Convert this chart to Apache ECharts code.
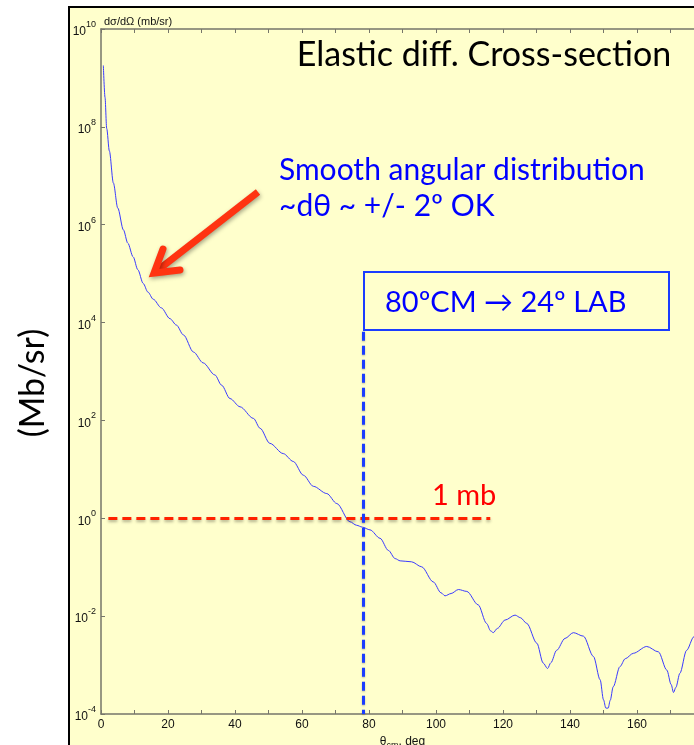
<!DOCTYPE html>
<html>
<head>
<meta charset="utf-8">
<script src="https://cdn.jsdelivr.net/npm/echarts@6/dist/echarts.min.js"></script>
<style>
html,body{margin:0;padding:0;background:#fff;}
#c{width:694px;height:745px;}
</style>
</head>
<body>
<div id="c"></div>
<script>
// theta_cm (deg)
var theta = [0.7,1.2,1.7,2.5,3.7,5.0,6.7,8.0,9.6,11.0,12.6,14.0,15.6,18.0,20.6,22.5,24.6,27.6,30.5,34.0,36.0,38.5,41.5,45.5,47.5,50.4,54.4,57.4,60.4,63.4,67.4,70.4,74.3,76.3,78.0,80.3,83.3,85.8,87.8,89.3,92.7,95.7,99.2,101.5,102.7,104.5,106.7,109.2,112.6,115.1,116.3,117.1,118.3,120.6,123.6,125.2,127.1,130.1,132.0,133.3,134.3,136.0,138.5,141.0,144.0,147.0,149.0,150.0,150.7,151.4,152.0,152.9,154.9,156.5,158.9,162.9,166.4,168.9,170.2,170.9,171.6,172.8,174.8,177.0,180.0];
// dsigma/dOmega (mb/sr)
var sigma = [1.8e9,4.0e8,9.3e7,3.2e7,7.1e6,2.2e6,7.8e5,4.2e5,2.2e5,1.2e5,6.3e4,4.2e4,3.0e4,2.0e4,1.2e4,8.9e3,5.6e3,2.5e3,1.5e3,850,525,280,190,110,69,34,21,14.5,7.6,4.5,3.2,2.0,0.85,0.72,0.66,0.58,0.39,0.22,0.15,0.135,0.129,0.102,0.050,0.030,0.026,0.029,0.035,0.032,0.017,0.0071,0.0050,0.0046,0.0056,0.0083,0.0105,0.0093,0.0071,0.0028,0.0011,0.00085,0.00112,0.0020,0.0035,0.0046,0.0039,0.0015,0.00050,0.000195,0.000132,0.000132,0.00019,0.00036,0.00093,0.00135,0.00174,0.0024,0.00186,0.00079,0.00040,0.000275,0.00035,0.00068,0.0020,0.0038,0.0063];
var xTicks = [0,20,40,60,80,100,120,140,160,180];
var yExponents = [-4,-2,0,2,4,6,8,10];

var data = theta.map(function(t,i){return [t, sigma[i]];});

var chart = echarts.init(document.getElementById('c'), null, {renderer:'canvas'});
var axisColor = '#76766a';
var option = {
  backgroundColor: '#ffffff',
  animation: false,
  grid: {left: 101, top: 29, width: 603, height: 685, containLabel: false, outerBoundsMode: 'none'},
  xAxis: [{
    type: 'value', min: 0, max: 180, interval: 20, position: 'bottom',
    axisLine: {show: true, lineStyle: {color: axisColor, width: 1.5}},
    axisTick: {show: true, inside: true, length: 4, lineStyle: {color: axisColor}},
    minorTick: {show: true, splitNumber: 2, length: 4, lineStyle: {color: axisColor}},
    splitLine: {show: false},
    axisLabel: {color: '#111', fontSize: 12, fontFamily: 'Liberation Sans', margin: 5},
    name: '{a|θ}{s|cm}{a|, deg}', nameLocation: 'middle', nameGap: 14,
    nameTextStyle: {rich: {
      a: {fontSize: 12, fontFamily: 'Liberation Sans', color: '#111', verticalAlign: 'middle', lineHeight: 16},
      s: {fontSize: 9, fontFamily: 'Liberation Sans', color: '#111', verticalAlign: 'bottom', lineHeight: 16}
    }}
  }, {
    type: 'value', min: 0, max: 180, interval: 20, position: 'top',
    axisLine: {show: true, lineStyle: {color: axisColor, width: 1.5}},
    axisTick: {show: true, inside: true, length: 4, lineStyle: {color: axisColor}},
    minorTick: {show: true, splitNumber: 2, length: 4, lineStyle: {color: axisColor}},
    splitLine: {show: false},
    axisLabel: {show: false}
  }],
  yAxis: {
    type: 'log', logBase: 10, min: 1e-4, max: 1e10, interval: 2,
    axisLine: {show: true, lineStyle: {color: axisColor, width: 1.5}},
    axisTick: {show: true, inside: true, length: 4, lineStyle: {color: axisColor}},
    splitLine: {show: false},
    axisLabel: {
      margin: 5,
      formatter: function(v){
        var e = Math.round(Math.log(v)/Math.LN10);
        if (yExponents.indexOf(e) < 0) return '';
        return '{b|10}{s|' + e + '}';
      },
      rich: {
        b: {fontSize: 12, fontFamily: 'Liberation Sans', color: '#111', verticalAlign: 'bottom', lineHeight: 18},
        s: {fontSize: 9, fontFamily: 'Liberation Sans', color: '#111', verticalAlign: 'top', lineHeight: 18}
      }
    }
  },
  graphic: [
    {type: 'rect', z: -10, silent: true, shape: {x: 69, y: 7, width: 700, height: 800},
     style: {fill: '#ffffcc', stroke: '#000', lineWidth: 2}},
    {type: 'text', z: 10, style: {x: 104, y: 22, text: 'dσ/dΩ (mb/sr)', textAlign: 'left', textVerticalAlign: 'middle',
      font: '11px "Liberation Sans"', fill: '#111'}},
    {type: 'text', z: 10, style: {x: 484, y: 55, text: 'Elastic diff. Cross-section', textAlign: 'center', textVerticalAlign: 'middle',
      font: '34px Lato', fill: '#000'}},
    {type: 'text', z: 10, style: {x: 279, y: 170, text: 'Smooth angular distribution', textAlign: 'left', textVerticalAlign: 'middle',
      font: '30px Lato', fill: '#0000ff'}},
    {type: 'text', z: 10, style: {x: 279, y: 206, text: '~dθ ~ +/- 2º OK', textAlign: 'left', textVerticalAlign: 'middle',
      font: '30px Lato', fill: '#0000ff'}},
    {type: 'rect', z: 10, shape: {x: 364, y: 272, width: 305, height: 58},
     style: {fill: '#ffffcc', stroke: '#1a3cff', lineWidth: 2}},
    {type: 'text', z: 11, style: {x: 385, y: 303, text: '80ºCM → 24º LAB', textAlign: 'left', textVerticalAlign: 'middle',
      font: '29px Lato', fill: '#0000ff'}},
    {type: 'text', z: 10, style: {x: 432, y: 496, text: '1 mb', textAlign: 'left', textVerticalAlign: 'middle',
      font: '29px Lato', fill: '#ff0000'}},
    {type: 'text', z: 10, rotation: Math.PI/2, x: 33, y: 383, style: {x: 0, y: 0, text: '(Mb/sr)', textAlign: 'center', textVerticalAlign: 'middle',
      font: '34px Lato', fill: '#000'}},
    {type: 'polyline', z: 12, shape: {points: [[258,192],[158,270]]},
     style: {stroke: '#ff3311', lineWidth: 7, lineCap: 'butt', shadowColor: 'rgba(0,0,0,0.35)', shadowBlur: 4, shadowOffsetX: 1, shadowOffsetY: 2}},
    {type: 'polyline', z: 12, shape: {points: [[163,249],[154,273],[180,270]]},
     style: {stroke: '#ff3311', lineWidth: 7, lineJoin: 'miter', lineCap: 'round', fill: null, shadowColor: 'rgba(0,0,0,0.35)', shadowBlur: 4, shadowOffsetX: 1, shadowOffsetY: 2}}
  ],
  series: [{
    type: 'line', xAxisIndex: 0, data: data, smooth: 0.3, smoothMonotone: 'x', showSymbol: false,
    lineStyle: {color: '#3a3aff', width: 1},
    markLine: {
      silent: true, symbol: ['none','none'], label: {show: false},
      data: [
        [{coord: [2.2, 1], lineStyle: {color: '#ff2200', width: 3, type: [9,5], shadowColor: 'rgba(0,0,0,0.3)', shadowBlur: 3, shadowOffsetY: 2}},
         {coord: [116.2, 1]}],
        [{coord: [78.3, 6500], lineStyle: {color: '#1a3cff', width: 3, type: [9,5], shadowColor: 'rgba(0,0,0,0.25)', shadowBlur: 2, shadowOffsetY: 1}},
         {coord: [78.3, 1e-4]}]
      ]
    }
  }]
};
chart.setOption(option);
</script>
</body>
</html>
